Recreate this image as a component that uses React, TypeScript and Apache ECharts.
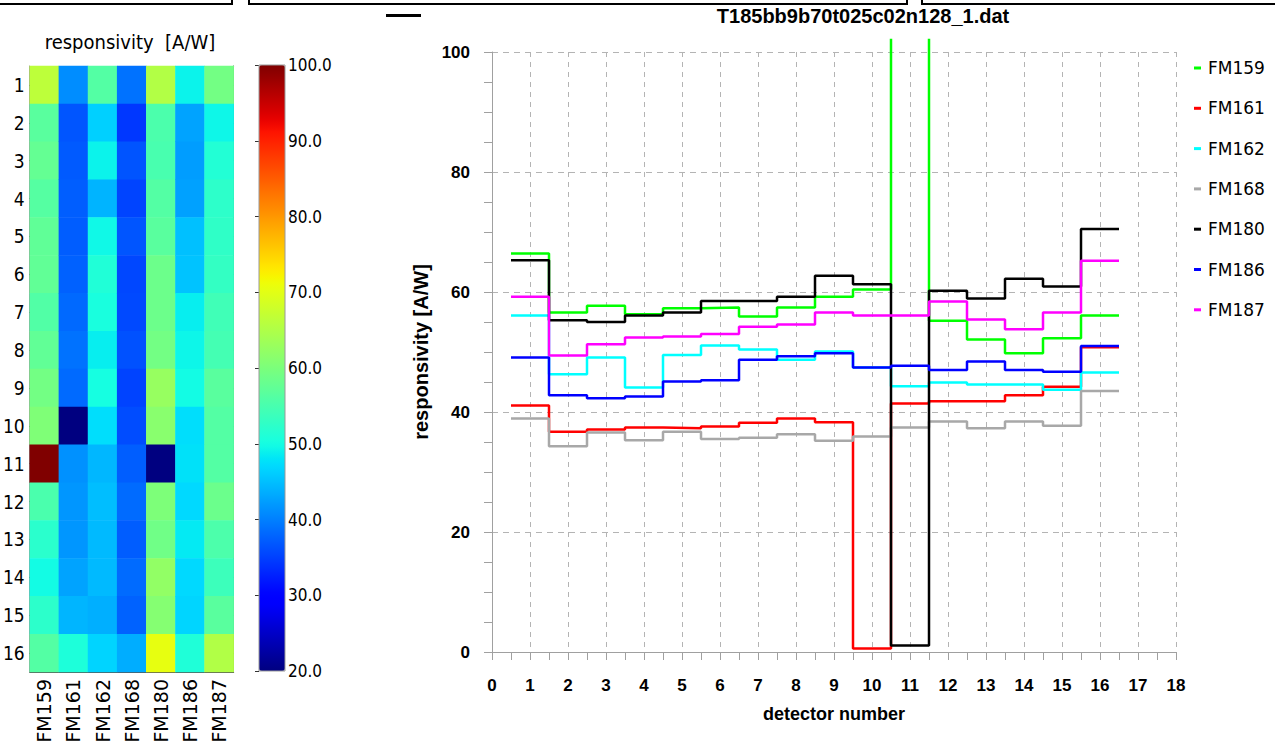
import React, { useEffect, useRef } from 'react';
import * as echarts from 'echarts';

// ---------- data ----------
const DETECTORS = [1, 2, 3, 4, 5, 6, 7, 8, 9, 10, 11, 12, 13, 14, 15, 16];
const ROW_LABELS = DETECTORS.map((d) => String(d));
const MODULES = ['FM159', 'FM161', 'FM162', 'FM168', 'FM180', 'FM186', 'FM187'];

const FM159 = [66.4, 56.6, 57.7, 56.3, 57.3, 57.4, 55.9, 57.4, 59.2, 60.4, 120, 55.2, 52.1, 49.8, 52.3, 56.1];
const FM161 = [41.1, 36.7, 37.1, 37.4, 37.3, 37.6, 38.2, 38.9, 38.3, 0.6, 41.4, 41.8, 41.8, 42.8, 44.2, 50.8];
const FM162 = [56.1, 46.3, 49.1, 44.1, 49.5, 51.1, 50.4, 48.7, 50.1, 47.4, 44.3, 44.9, 44.6, 44.6, 43.7, 46.6];
const FM168 = [38.9, 34.3, 36.6, 35.3, 36.7, 35.5, 35.7, 36.3, 35.2, 35.9, 37.4, 38.4, 37.3, 38.4, 37.7, 43.5];
const FM180 = [65.3, 55.3, 55.0, 56.1, 56.6, 58.5, 58.5, 59.2, 62.7, 61.3, 1.1, 60.2, 58.9, 62.2, 60.9, 70.5];
const FM186 = [49.1, 42.8, 42.3, 42.6, 45.1, 45.3, 48.7, 49.3, 49.8, 47.4, 47.7, 47.0, 48.4, 47.0, 46.7, 51.0];
const FM187 = [59.2, 49.4, 51.3, 52.4, 52.6, 53.0, 54.2, 54.6, 56.6, 56.1, 56.1, 58.4, 55.4, 53.8, 56.6, 65.2];

const MODULE_VALUES = [FM159, FM161, FM162, FM168, FM180, FM186, FM187];
const LINE_COLORS = ['#00ff00', '#ff0000', '#00ffff', '#a8a8a8', '#000000', '#0000ff', '#ff00ff'];

const COLOR_MIN = 20;
const COLOR_MAX = 100;

const TITLE = 'T185bb9b70t025c02n128_1.dat';
const HEAT_TITLE = 'responsivity  [A/W]';
const X_NAME = 'detector number';
const Y_NAME = 'responsivity [A/W]';

// ---------- helpers ----------
function jet(t: number): string {
  const interp = (pts: number[][]) => {
    for (let i = 0; i < pts.length - 1; i++) {
      const [x0, y0] = pts[i];
      const [x1, y1] = pts[i + 1];
      if (t <= x1) return y0 + ((y1 - y0) * (t - x0)) / (x1 - x0);
    }
    return pts[pts.length - 1][1];
  };
  const r = interp([[0, 0], [0.35, 0], [0.66, 1], [0.89, 1], [1, 0.5]]);
  const g = interp([[0, 0], [0.125, 0], [0.375, 1], [0.64, 1], [0.91, 0], [1, 0]]);
  const b = interp([[0, 0.5], [0.11, 1], [0.34, 1], [0.65, 0], [1, 0]]);
  return `rgb(${Math.round(r * 255)},${Math.round(g * 255)},${Math.round(b * 255)})`;
}
const JET = Array.from({ length: 81 }, (_, i) => jet(i / 80));

const stepData = (vals: number[]) => {
  const d = DETECTORS.map((x, i) => [x - 0.5, vals[i]]);
  d.push([DETECTORS[DETECTORS.length - 1] + 0.5, vals[vals.length - 1]]);
  return d;
};

const heatData: number[][] = [];
MODULES.forEach((_, c) => {
  DETECTORS.forEach((_, r) => {
    heatData.push([c, r, MODULE_VALUES[c][r]]);
  });
});

const NARROW = "'Liberation Sans Narrow', 'DejaVu Sans Condensed', 'Liberation Sans', sans-serif";
const SANS = "'DejaVu Sans', sans-serif";
const BOLD = "'Liberation Sans', Arial, sans-serif";

const GRID_GRAY = '#b4b4b4';
const AXIS_GRAY = '#a0a0a0';

function buildOption(): any {
  return {
    animation: false,
    backgroundColor: '#ffffff',
    grid: [
      { left: 26, top: 66, width: 207.7, height: 606 },
      { left: 259, top: 65, width: 26, height: 606 },
      { left: 492, top: 52, right: 99, bottom: 99 },
      { left: 492, top: 40, right: 99, bottom: 99 },
    ],
    xAxis: [
      {
        type: 'category', gridIndex: 0, data: MODULES, position: 'bottom',
        axisLine: { show: true, lineStyle: { color: '#555', width: 1 } },
        axisTick: { show: true, inside: true, alignWithLabel: true, length: 5, lineStyle: { color: '#000' } },
        axisLabel: { rotate: 90, margin: 7, color: '#000', fontFamily: SANS, fontSize: 19 },
        splitLine: { show: false },
      },
      {
        type: 'category', gridIndex: 0, data: MODULES, position: 'top',
        axisLine: { show: true, lineStyle: { color: '#999', width: 1 } },
        axisTick: { show: true, inside: true, alignWithLabel: true, length: 5, lineStyle: { color: '#000' } },
        axisLabel: { show: false },
        splitLine: { show: false },
      },
      { type: 'value', gridIndex: 1, min: 0, max: 1, show: false },
      {
        type: 'value', gridIndex: 2, min: 0, max: 18, interval: 1, offset: 10,
        axisLine: { show: true, lineStyle: { color: AXIS_GRAY, width: 1 } },
        axisTick: { show: true, length: 8, lineStyle: { color: AXIS_GRAY } },
        minorTick: { show: true, splitNumber: 2, length: 8, lineStyle: { color: AXIS_GRAY } },
        axisLabel: { margin: 15, color: '#000', fontFamily: BOLD, fontWeight: 'bold', fontSize: 17 },
        splitLine: { show: true, lineStyle: { color: GRID_GRAY, type: [5, 5], width: 1 } },
        name: X_NAME, nameLocation: 'middle', nameGap: 43,
        nameTextStyle: { color: '#000', fontFamily: BOLD, fontWeight: 'bold', fontSize: 18 },
      },
      { type: 'value', gridIndex: 3, min: 0, max: 18, show: false },
    ],
    yAxis: [
      {
        type: 'category', gridIndex: 0, data: ROW_LABELS, inverse: true, position: 'left',
        axisLine: { show: true, lineStyle: { color: '#999', width: 1 } },
        axisTick: { show: true, inside: true, alignWithLabel: true, length: 5, lineStyle: { color: '#000' } },
        axisLabel: { margin: 5, color: '#000', fontFamily: NARROW, fontSize: 19 },
        splitLine: { show: false },
      },
      {
        type: 'category', gridIndex: 0, data: ROW_LABELS, inverse: true, position: 'right',
        axisLine: { show: true, lineStyle: { color: '#555', width: 1 } },
        axisTick: { show: true, inside: true, alignWithLabel: true, length: 5, lineStyle: { color: '#000' } },
        axisLabel: { show: false },
        splitLine: { show: false },
      },
      {
        type: 'value', gridIndex: 1, position: 'right', min: COLOR_MIN, max: COLOR_MAX, interval: 10,
        axisLine: { show: false },
        axisTick: { show: true, inside: true, length: 4, lineStyle: { color: '#333' } },
        axisLabel: { margin: 3, color: '#000', fontFamily: NARROW, fontSize: 17, formatter: (v: number) => v.toFixed(1) },
        splitLine: { show: false },
      },
      {
        type: 'value', gridIndex: 2, min: 0, max: 100, interval: 20, offset: 10,
        axisLine: { show: true, lineStyle: { color: AXIS_GRAY, width: 1 } },
        axisTick: { show: true, length: 8, lineStyle: { color: AXIS_GRAY } },
        minorTick: { show: true, splitNumber: 4, length: 8, lineStyle: { color: AXIS_GRAY } },
        axisLabel: { margin: 12, color: '#000', fontFamily: BOLD, fontWeight: 'bold', fontSize: 17 },
        splitLine: { show: true, lineStyle: { color: GRID_GRAY, type: [6, 5], width: 1 } },
        name: Y_NAME, nameLocation: 'middle', nameGap: 37,
        nameTextStyle: { color: '#000', fontFamily: BOLD, fontWeight: 'bold', fontSize: 20 },
      },
      { type: 'value', gridIndex: 3, min: 0, max: 102, show: false },
    ],
    visualMap: {
      type: 'continuous', seriesIndex: 0, min: COLOR_MIN, max: COLOR_MAX,
      inRange: { color: JET }, show: true, calculable: false, hoverLink: false,
      left: 259, top: 65, itemWidth: 26, itemHeight: 606, padding: 0,
    },
    legend: {
      data: MODULES, orient: 'vertical', left: 1189, top: 53,
      itemWidth: 7, itemHeight: 3, icon: 'rect', itemGap: 20.3,
      itemStyle: { borderWidth: 0 },
      lineStyle: { width: 0 },
      textStyle: { color: '#000', fontFamily: SANS, fontSize: 17, lineHeight: 20, padding: [0, 0, 0, 2] },
    },
    series: [
      {
        type: 'heatmap', xAxisIndex: 0, yAxisIndex: 0, data: heatData,
        itemStyle: { borderWidth: 0 }, emphasis: { disabled: true }, progressive: 0,
      },
      ...MODULES.map((name, i) => ({
        type: 'line', name, xAxisIndex: 4, yAxisIndex: 4, step: 'end',
        data: stepData(MODULE_VALUES[i]), showSymbol: false, clip: true,
        color: LINE_COLORS[i],
        lineStyle: { color: LINE_COLORS[i], width: 2.5 },
        emphasis: { disabled: true },
      })),
    ],
    graphic: [
      { type: 'text', x: 863, y: 16, style: { text: TITLE, textAlign: 'center', textVerticalAlign: 'middle', fontFamily: BOLD, fontWeight: 'bold', fontSize: 20, fill: '#000' } },
      { type: 'text', x: 130, y: 42, style: { text: HEAT_TITLE, textAlign: 'center', textVerticalAlign: 'middle', fontFamily: NARROW, fontSize: 20, fill: '#000' } },
      { type: 'rect', shape: { x: 259, y: 65, width: 26, height: 606 }, style: { fill: 'none', stroke: '#999', lineWidth: 1 }, z: 100 },
      // window frame remnants at the top of the screenshot
      { type: 'rect', shape: { x: 0, y: 3, width: 232, height: 2 }, style: { fill: '#000' } },
      { type: 'rect', shape: { x: 231, y: 0, width: 2, height: 5 }, style: { fill: '#000' } },
      { type: 'rect', shape: { x: 248, y: 3, width: 660, height: 2 }, style: { fill: '#000' } },
      { type: 'rect', shape: { x: 248, y: 0, width: 2, height: 5 }, style: { fill: '#000' } },
      { type: 'rect', shape: { x: 906, y: 0, width: 2, height: 5 }, style: { fill: '#000' } },
      { type: 'rect', shape: { x: 921, y: 3, width: 354, height: 2 }, style: { fill: '#000' } },
      { type: 'rect', shape: { x: 921, y: 0, width: 2, height: 5 }, style: { fill: '#000' } },
      { type: 'rect', shape: { x: 386, y: 14, width: 35, height: 3 }, style: { fill: '#000' } },
    ],
  };
}

export default function App() {
  const ref = useRef<HTMLDivElement>(null);
  useEffect(() => {
    if (!ref.current) return;
    const chart = echarts.init(ref.current, null, { renderer: 'svg' });
    chart.setOption(buildOption());
    return () => chart.dispose();
  }, []);
  return (
    <div
      ref={ref}
      style={{ position: 'fixed', left: 0, top: 0, width: 1275, height: 751, background: '#fff' }}
    />
  );
}
